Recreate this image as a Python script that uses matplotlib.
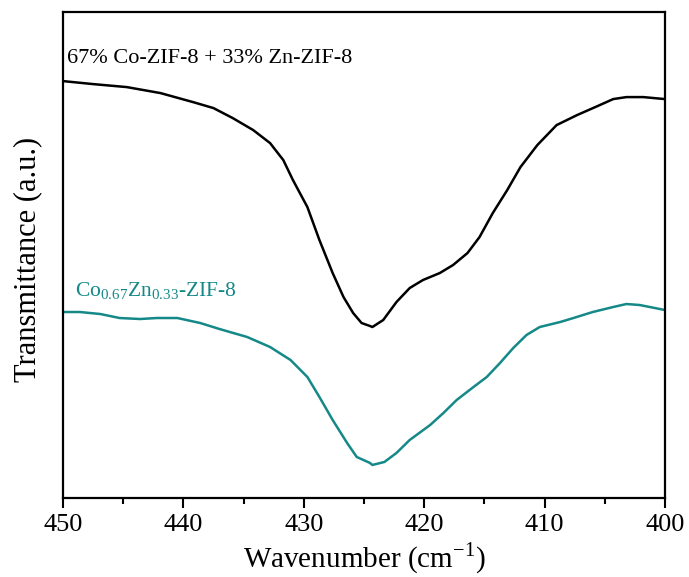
import matplotlib.pyplot as plt
from matplotlib.ticker import MultipleLocator

# wavenumber (cm-1) and transmittance (a.u.)
mix_wn = [450.0, 447.5, 444.7, 441.9, 439.2, 437.5, 435.9, 434.2, 432.8, 431.7,
          430.9, 429.7, 428.7, 427.6, 426.7, 425.9, 425.2, 424.5, 424.3, 423.4,
          422.3, 421.2, 420.1, 418.7, 417.6, 416.4, 415.4, 414.3, 413.1, 412.0,
          410.6, 409.0, 407.3, 405.6, 404.3, 403.2, 401.8, 400.0]
mix_t = [417, 414, 411, 405, 396, 390, 380, 368, 355, 338,
         318, 291, 258, 225, 201, 185, 175, 172, 171, 178,
         196, 210, 218, 225, 233, 245, 261, 285, 308, 331,
         353, 373, 383, 392, 399, 401, 401, 399]

cozn_wn = [450.0, 448.6, 446.9, 445.3, 443.6, 442.2, 440.5, 438.6, 437.0, 434.7,
           432.8, 431.1, 429.7, 428.7, 427.6, 426.4, 425.6, 424.5, 424.3, 423.3,
           422.3, 421.2, 419.5, 418.4, 417.3, 415.9, 414.8, 413.7, 412.6, 411.5,
           410.4, 408.7, 407.6, 406.0, 404.3, 403.2, 402.1, 400.0]
cozn_t = [186, 186, 184, 180, 179, 180, 180, 175, 169, 161,
          151, 138, 121, 101, 78, 55, 41, 35, 33, 36,
          45, 58, 73, 85, 98, 111, 121, 135, 150, 163,
          171, 176, 180, 186, 191, 194, 193, 188]

plt.rcParams['font.family'] = ['Liberation Serif', 'DejaVu Serif']
plt.rcParams['mathtext.fontset'] = 'custom'
plt.rcParams['mathtext.rm'] = 'Liberation Serif'

fig = plt.figure(figsize=(6.89, 5.77), dpi=100)
ax = fig.add_axes([0.0914, 0.137, 0.8737, 0.842])

teal = '#158888'
ax.plot(mix_wn, mix_t, color='black', lw=1.8)
ax.plot(cozn_wn, cozn_t, color=teal, lw=1.8)

ax.text(449.7, 430, '67% Co-ZIF-8 + 33% Zn-ZIF-8', fontsize=16, color='black', va='bottom')
ax.text(449.0, 196, r'Co$_{\mathrm{0.67}}$Zn$_{\mathrm{0.33}}$-ZIF-8', fontsize=15.5, color=teal,
        va='bottom')

ax.set_xlim(450, 400)
ax.set_ylim(0, 486)
ax.xaxis.set_major_locator(MultipleLocator(10))
ax.xaxis.set_minor_locator(MultipleLocator(5))
ax.tick_params(axis='x', which='major', direction='out', length=7.5, width=1.5,
               labelsize=19, pad=4)
ax.tick_params(axis='x', which='minor', direction='out', length=4, width=1.5)
ax.tick_params(axis='y', left=False, labelleft=False)
for s in ax.spines.values():
    s.set_linewidth(1.6)

ax.set_xlabel(r'Wavenumber (cm$^{\mathrm{-1}}$)', fontsize=21)
ax.xaxis.set_label_coords(0.5, -0.088)
ax.set_ylabel('Transmittance (a.u.)', fontsize=22)
ax.yaxis.set_label_coords(-0.035, 0.49)

fig.savefig('out.png', dpi=100)
